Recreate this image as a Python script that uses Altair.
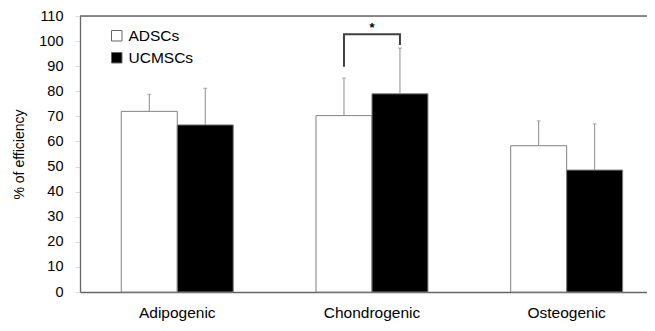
import altair as alt
import pandas as pd

categories = ["Adipogenic", "Chondrogenic", "Osteogenic"]
groups = ["ADSCs", "UCMSCs"]
adsc_mean = [72.0, 70.3, 58.3]
adsc_sd = [6.8, 15.0, 9.9]
ucmsc_mean = [66.6, 79.0, 48.6]
ucmsc_sd = [14.6, 18.2, 18.4]

bracket_category = "Chondrogenic"
bracket_group = ["ADSCs", "ADSCs", "UCMSCs", "UCMSCs"]
bracket_y = [89.8, 102.7, 102.7, 98.4]
asterisk_y = 103.5
y_top = 110
y_ticks = [0, 10, 20, 30, 40, 50, 60, 70, 80, 90, 100, 110]

rows = []
for i, c in enumerate(categories):
    rows.append({"category": c, "group": "ADSCs", "val": adsc_mean[i], "upper": adsc_mean[i] + adsc_sd[i]})
    rows.append({"category": c, "group": "UCMSCs", "val": ucmsc_mean[i], "upper": ucmsc_mean[i] + ucmsc_sd[i]})
df = pd.DataFrame(rows)

bracket_df = pd.DataFrame({
    "category": [bracket_category] * 4,
    "group": bracket_group,
    "val": bracket_y,
    "order": list(range(4)),
})
star_df = pd.DataFrame({"category": [bracket_category], "val": [asterisk_y], "t": ["*"]})
top_df = pd.DataFrame({"val": [y_top]})

FONT = "Liberation Sans"

xscale = alt.Scale(domain=categories, paddingInner=0.425, paddingOuter=0.1686, align=0.629)
yscale = alt.Scale(domain=[0, 110], nice=False)
offscale = alt.Scale(domain=groups, paddingInner=0, paddingOuter=0)

x_axis = alt.Axis(title=None, labelAngle=0, tickSize=0, labelPadding=13)
y_axis = alt.Axis(title="% of efficiency", values=y_ticks, labelOverlap=False,
                  tickCount=12, grid=False)

def X():
    return alt.X("category:N", scale=xscale, sort=categories, axis=x_axis)

def XO():
    return alt.XOffset("group:N", scale=offscale, sort=groups)

def Y(field="val:Q"):
    return alt.Y(field, scale=yscale, axis=y_axis)

bars = alt.Chart(df).mark_bar(stroke="#808080", strokeWidth=1).encode(
    x=X(), xOffset=XO(), y=Y(),
    fill=alt.Fill("group:N", scale=alt.Scale(domain=groups, range=["#ffffff", "#000000"]),
                  legend=alt.Legend(title=None, orient="none", legendX=29, legendY=12,
                                    symbolType="square", symbolSize=110,
                                    symbolStrokeColor="#666666", symbolStrokeWidth=1,
                                    labelFontSize=15.5, labelFont=FONT, labelColor="#000000",
                                    labelOffset=4, rowPadding=5, padding=0)),
)

err = alt.Chart(df).mark_rule(color="#8c8c8c", strokeWidth=1).encode(
    x=X(), xOffset=XO(), y=Y(), y2="upper:Q",
)
caps = alt.Chart(df).mark_tick(color="#8c8c8c", thickness=1, size=4, orient="horizontal").encode(
    x=X(), xOffset=XO(), y=Y("upper:Q"),
)
bracket = alt.Chart(bracket_df).mark_line(color="#404040", strokeWidth=2).encode(
    x=X(), xOffset=XO(), y=Y(), order="order:O",
)
star = alt.Chart(star_df).mark_text(fontSize=13, fontWeight="bold", font=FONT,
                                     baseline="alphabetic", color="#000000").encode(
    x=X(), y=Y(), text="t:N",
)
top = alt.Chart(top_df).mark_rule(color="#666666", strokeWidth=1.3).encode(y=Y())

chart = alt.layer(bars, err, caps, bracket, star, top).properties(
    width=567, height=276,
    autosize=alt.AutoSizeParams(type="none"),
    padding={"left": 72, "top": 8, "right": 0, "bottom": 31},
).configure_view(stroke=None).configure(background="#ffffff").configure_axisX(
    labelFontSize=15.5, labelFont=FONT, labelColor="#000000",
    domainColor="#666666", domainWidth=1.3,
).configure_axisY(
    labelFontSize=14.5, labelFont=FONT, labelColor="#000000",
    tickSize=5, tickColor="#dddddd", labelPadding=12,
    domainColor="#666666", domainWidth=1.3,
    titleFont=FONT, titleFontSize=14, titleFontWeight="normal",
    titleColor="#000000", titlePadding=12,
)

chart.save("out.html", embed_options={"renderer": "svg", "actions": False})
